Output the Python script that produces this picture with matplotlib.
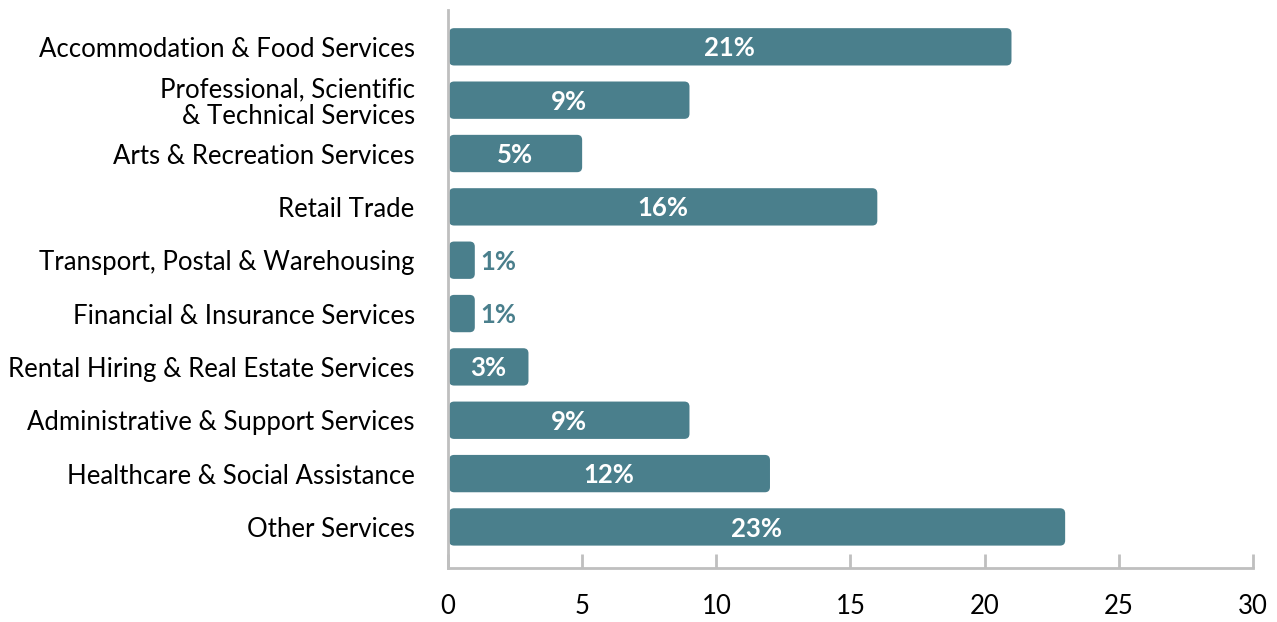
"""Horizontal bar chart: share of businesses by industry."""

import matplotlib
matplotlib.use("Agg")
import matplotlib.pyplot as plt
from matplotlib.patches import FancyBboxPatch

industries = [
    "Accommodation & Food Services",
    "Professional, Scientific\n& Technical Services",
    "Arts & Recreation Services",
    "Retail Trade",
    "Transport, Postal & Warehousing",
    "Financial & Insurance Services",
    "Rental Hiring & Real Estate Services",
    "Administrative & Support Services",
    "Healthcare & Social Assistance",
    "Other Services",
]
shares = [21, 9, 5, 16, 1, 1, 3, 9, 12, 23]
x_ticks = [0, 5, 10, 15, 20, 25, 30]

BAR = "#4A7F8C"
GRID = "#BFBFBF"
FS = 18.5

plt.rcParams["font.family"] = ["Lato", "DejaVu Sans"]

fig = plt.figure(figsize=(12.77, 6.22), dpi=100)
ax = fig.add_axes([0.3508, 0.0868, 0.6304, 0.8971])

ax.set_xlim(0, 30)
ax.set_ylim(9.77, -0.69)

bar_h = 0.7
for i, v in enumerate(shares):
    box = FancyBboxPatch(
        (0.04, i - bar_h / 2), v - 0.04, bar_h,
        boxstyle="round,pad=0,rounding_size=0.19",
        mutation_aspect=0.5, facecolor=BAR, edgecolor="none", zorder=2,
    )
    ax.add_patch(box)
    if v >= 3:
        ax.text(v / 2, i + 0.03, f"{v}%", ha="center", va="center", color="white",
                fontsize=FS, fontweight="bold", zorder=3)
    else:
        ax.text(v + 0.2, i + 0.03, f"{v}%", ha="left", va="center", color=BAR,
                fontsize=FS, fontweight="bold", zorder=3)

ax.set_yticks(range(len(industries)))
ax.set_yticklabels(industries, fontsize=FS, linespacing=1.05)
ax.set_xticks(x_ticks)
ax.set_xticklabels([str(t) for t in x_ticks], fontsize=FS)

for side in ("top", "right"):
    ax.spines[side].set_visible(False)
for side in ("left", "bottom"):
    ax.spines[side].set_color(GRID)
    ax.spines[side].set_linewidth(2)

ax.tick_params(axis="y", length=0, pad=24, colors="black")
ax.tick_params(axis="x", direction="in", length=10, width=2, color=GRID, pad=19)

fig.savefig("out.png", dpi=100)
